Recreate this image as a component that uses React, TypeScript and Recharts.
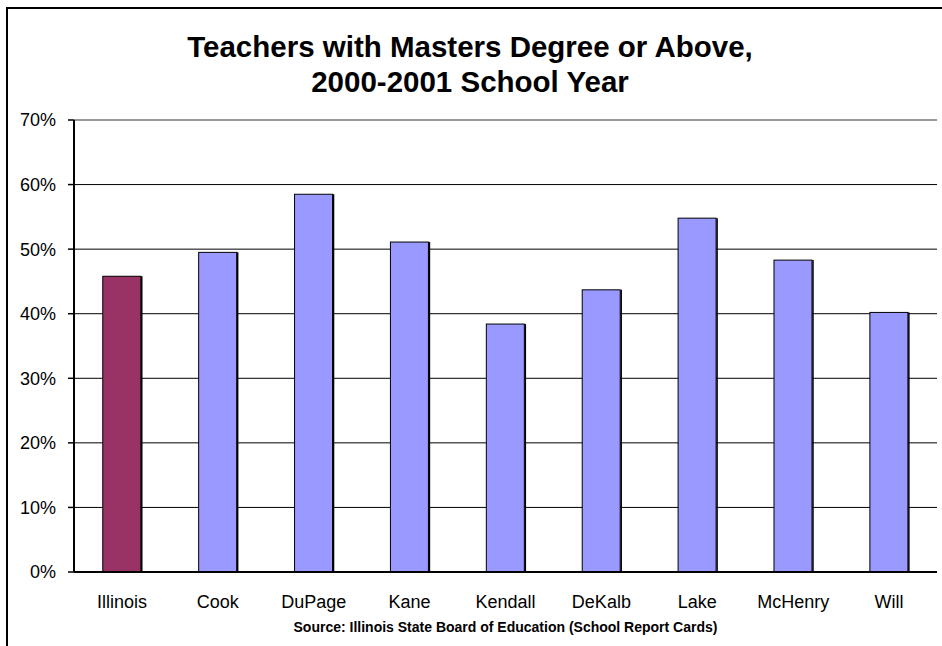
import { Bar, BarChart, CartesianGrid, Cell, ReferenceLine, XAxis, YAxis } from "recharts";

const counties = ["Illinois", "Cook", "DuPage", "Kane", "Kendall", "DeKalb", "Lake", "McHenry", "Will"];
const mastersShare = [0.458, 0.495, 0.585, 0.511, 0.384, 0.437, 0.548, 0.483, 0.402];
const yTicks = [0, 0.1, 0.2, 0.3, 0.4, 0.5, 0.6, 0.7];
const boundaryTicks = [0, 1, 2, 3, 4, 5, 6, 7, 8, 9];

const data = counties.map((name, i) => ({ name, idx: i, value: mastersShare[i] }));

const FONT = "'Liberation Sans', Arial, sans-serif";

const BarShape = (props: any) => {
  const { x, y, width, height, fill } = props;
  if (!height) return null;
  return (
    <g>
      <rect x={x} y={y} width={width} height={height} fill={fill} stroke="#000" strokeWidth={1} />
      <line x1={x + width + 1} y1={y} x2={x + width + 1} y2={y + height} stroke="#000" strokeWidth={1.5} />
    </g>
  );
};

export default function App() {
  return (
    <div
      style={{
        position: "fixed",
        left: 0,
        top: 0,
        width: 942,
        height: 646,
        overflow: "hidden",
        background: "#fff",
        fontFamily: FONT,
      }}
    >
      <div
        style={{
          position: "absolute",
          left: 6,
          top: 7,
          width: 1000,
          height: 1000,
          borderLeft: "2px solid #000",
          borderTop: "2px solid #000",
        }}
      />
      <div
        style={{
          position: "absolute",
          left: 0,
          width: 940,
          top: 29,
          textAlign: "center",
          fontWeight: "bold",
          fontSize: 29.5,
          lineHeight: "35px",
          color: "#000",
          whiteSpace: "nowrap",
        }}
      >
        Teachers with Masters Degree or Above,
        <br />
        2000-2001 School Year
      </div>
      <div
        style={{
          position: "absolute",
          left: 74,
          width: 863,
          top: 619,
          textAlign: "center",
          fontWeight: "bold",
          fontSize: 14,
          color: "#000",
          whiteSpace: "nowrap",
        }}
      >
        Source: Illinois State Board of Education (School Report Cards)
      </div>
      <div style={{ position: "absolute", left: 0, top: 0 }}>
        <BarChart
          width={942}
          height={646}
          data={data}
          margin={{ top: 120, right: 5, left: 8, bottom: 34 }}
          barCategoryGap="30%"
        >
          <CartesianGrid vertical={false} stroke="#000" strokeWidth={1} horizontalValues={yTicks.slice(1, 7)} />
          <XAxis
            xAxisId="bounds"
            type="number"
            dataKey="idx"
            domain={[0, 9]}
            ticks={boundaryTicks}
            tick={false}
            tickSize={6}
            tickLine={{ stroke: "#000", strokeWidth: 2 }}
            axisLine={false}
            height={0}
            allowDataOverflow
          />
          <XAxis
            xAxisId="main"
            dataKey="name"
            tickLine={false}
            tickSize={0}
            tickMargin={23}
            axisLine={{ stroke: "#000", strokeWidth: 2 }}
            tick={{ fill: "#000", fontSize: 18, fontFamily: FONT }}
            height={40}
            interval={0}
          />
          <XAxis xAxisId="top" orientation="top" dataKey="name" tick={false} tickLine={false} height={0} axisLine={{ stroke: "#999", strokeWidth: 2 }} />
          <YAxis
            domain={[0, 0.7]}
            ticks={yTicks}
            tickFormatter={(v: number) => `${Math.round(v * 100)}%`}
            tickSize={6}
            tickMargin={12}
            tickLine={{ stroke: "#000", strokeWidth: 1.5 }}
            axisLine={{ stroke: "#000", strokeWidth: 2 }}
            tick={{ fill: "#000", fontSize: 18, fontFamily: FONT }}
            width={66}
            interval={0}
          />
          <YAxis yAxisId="right" orientation="right" width={0} tick={false} tickLine={false} axisLine={{ stroke: "#999", strokeWidth: 2 }} />
          <ReferenceLine xAxisId="main" y={0.7} stroke="#999" strokeWidth={2} />
          <Bar xAxisId="main" dataKey="value" shape={BarShape} isAnimationActive={false}>
            {data.map((d) => (
              <Cell key={d.name} fill={d.name === "Illinois" ? "#993366" : "#9999FF"} />
            ))}
          </Bar>
        </BarChart>
      </div>
    </div>
  );
}
